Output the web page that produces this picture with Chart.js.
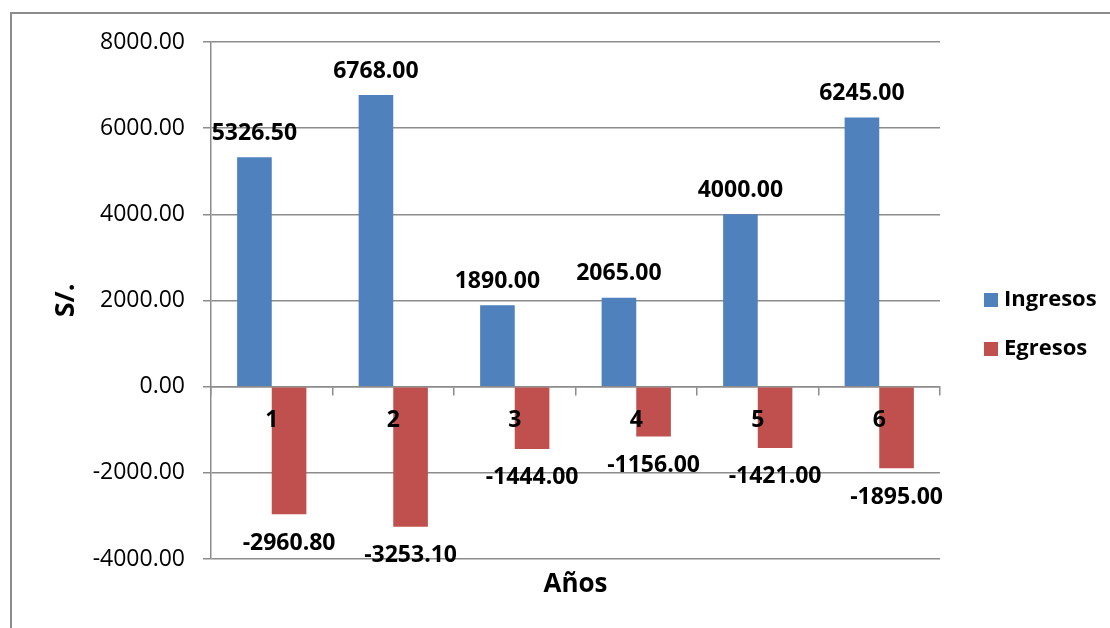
<!DOCTYPE html>
<html lang="es">
<head>
  <meta charset="UTF-8" />
  <title>Ingresos y Egresos por año</title>
  <style>
    * { box-sizing: border-box; margin: 0; padding: 0; }
    body { background: #ffffff; width: 1110px; height: 628px; overflow: hidden; }
    #frame {
      position: absolute;
      left: 10px;
      top: 12px;
      width: 1200px;
      height: 700px;
      border: 2px solid #8c8c8c;
    }
    #wrap { position: absolute; left: 0; top: 0; width: 1110px; height: 628px; }
  </style>
</head>
<body>
  <div id="frame"></div>
  <div id="wrap"><canvas id="flujoChart" width="1110" height="628"></canvas></div>

  <script src="https://cdn.jsdelivr.net/npm/chart.js"></script>
  <script>
    const anios = ['1', '2', '3', '4', '5', '6'];
    const ingresos = [5326.50, 6768.00, 1890.00, 2065.00, 4000.00, 6245.00];
    const egresos = [-2960.80, -3253.10, -1444.00, -1156.00, -1421.00, -1895.00];
    const yMin = -4000;
    const yMax = 8000;
    const yStep = 2000;

    const FONT = "'Open Sans', 'DejaVu Sans', sans-serif";
    const GRID = '#8c8c8c';

    // value labels above/below each bar, plus axis title and legend
    const extras = {
      id: 'extras',
      afterDatasetsDraw(chart) {
        const ctx = chart.ctx;
        ctx.save();
        ctx.fillStyle = '#000';
        ctx.font = 'bold 23px ' + FONT;
        ctx.textAlign = 'center';
        ctx.textBaseline = 'middle';
        chart.data.datasets.forEach((ds, i) => {
          chart.getDatasetMeta(i).data.forEach((bar, j) => {
            const v = ds.data[j];
            const y = v >= 0 ? bar.y - 24 : bar.y + 29;
            ctx.fillText(v.toFixed(2), bar.x, y);
          });
        });

        // x axis title
        const area = chart.chartArea;
        ctx.font = 'bold 26px ' + FONT;
        ctx.fillText('Años', (area.left + area.right) / 2, 585);

        // legend
        ctx.font = 'bold 22px ' + FONT;
        ctx.textAlign = 'left';
        chart.data.datasets.forEach((ds, i) => {
          const cy = 300 + i * 49;
          ctx.fillStyle = ds.backgroundColor;
          ctx.fillRect(984, cy - 7, 14, 14);
          ctx.fillStyle = '#000';
          ctx.fillText(ds.label, 1004, cy);
        });
        ctx.restore();
      }
    };

    const ctx = document.getElementById('flujoChart').getContext('2d');
    const flujoChart = new Chart(ctx, {
      type: 'bar',
      data: {
        labels: anios,
        datasets: [
          {
            label: 'Ingresos',
            data: ingresos,
            backgroundColor: '#4F81BD',
            categoryPercentage: 0.57,
            barPercentage: 1.0
          },
          {
            label: 'Egresos',
            data: egresos,
            backgroundColor: '#C0504D',
            categoryPercentage: 0.57,
            barPercentage: 1.0
          }
        ]
      },
      options: {
        responsive: false,
        animation: false,
        devicePixelRatio: 1,
        layout: { padding: { left: 0, top: 42, right: 170, bottom: 69 } },
        plugins: {
          legend: { display: false },
          tooltip: { enabled: false }
        },
        scales: {
          x: {
            position: { y: 0 },
            afterFit(scale) { scale.height = 0; },
            grid: {
              offset: true,
              drawOnChartArea: false,
              drawTicks: true,
              tickLength: 8,
              color: GRID,
              lineWidth: 1.5
            },
            border: { display: true, color: GRID, width: 1.5 },
            ticks: {
              z: 1,
              color: '#000',
              padding: 12,
              font: { family: FONT, size: 23, weight: 'bold' }
            }
          },
          y: {
            min: yMin,
            max: yMax,
            afterFit(scale) { scale.width = 211; },
            grid: {
              color: GRID,
              lineWidth: 1.5,
              tickLength: 8
            },
            border: { display: true, color: GRID, width: 1.5 },
            ticks: {
              stepSize: yStep,
              color: '#000',
              padding: 18,
              font: { family: FONT, size: 23 },
              callback: (v) => Number(v).toFixed(2)
            },
            title: {
              display: true,
              text: 'S/.',
              color: '#000',
              padding: { top: 50, bottom: 0 },
              font: { family: FONT, size: 27, weight: 'bold' }
            }
          }
        }
      },
      plugins: [extras]
    });
  </script>
</body>
</html>
